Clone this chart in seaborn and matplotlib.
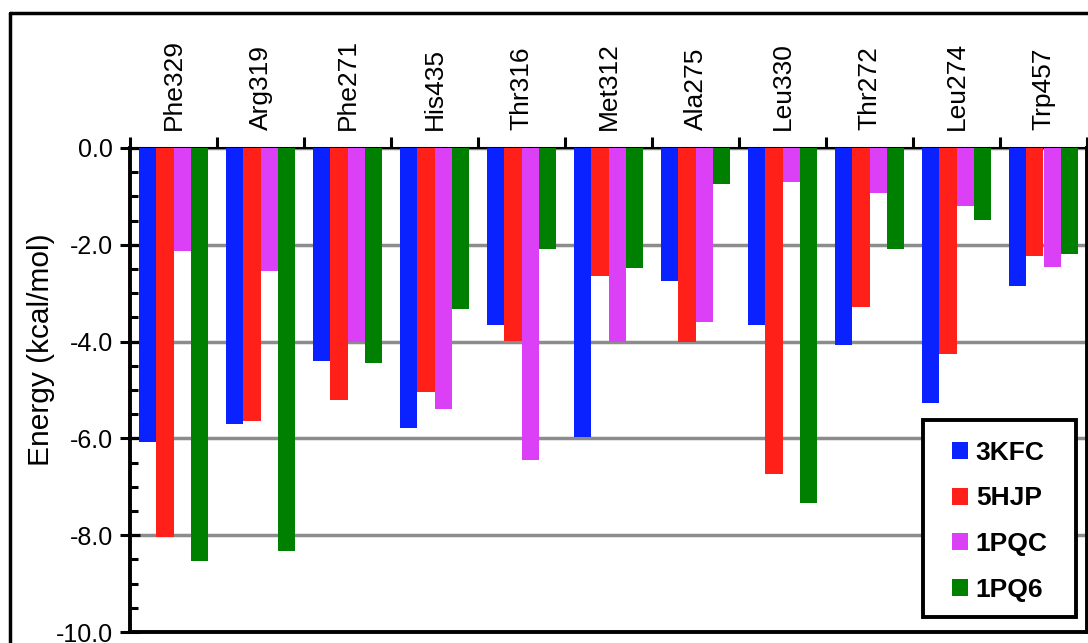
import matplotlib
matplotlib.use("Agg")
import matplotlib.pyplot as plt
from matplotlib.ticker import FixedLocator, MultipleLocator, FormatStrFormatter
from matplotlib.lines import Line2D
from matplotlib.patches import Rectangle
import numpy as np
import pandas as pd
import seaborn as sns

# Per-residue interaction energies (kcal/mol) for each structure
residues = ["Phe329", "Arg319", "Phe271", "His435", "Thr316", "Met312",
            "Ala275", "Leu330", "Thr272", "Leu274", "Trp457"]
structures = ["3KFC", "5HJP", "1PQC", "1PQ6"]
e_3kfc = [-6.07, -5.70, -4.41, -5.79, -3.65, -5.98, -2.74, -3.65, -4.08, -5.27, -2.86]
e_5hjp = [-8.03, -5.65, -5.21, -5.05, -3.99, -2.65, -4.00, -6.74, -3.29, -4.26, -2.24]
e_1pqc = [-2.12, -2.54, -4.00, -5.40, -6.45, -4.00, -3.60, -0.71, -0.92, -1.19, -2.46]
e_1pq6 = [-8.53, -8.33, -4.45, -3.32, -2.08, -2.47, -0.75, -7.34, -2.08, -1.48, -2.19]
bar_colors = ["#0a22ff", "#ff2119", "#dc40f6", "#008000"]
y_ticks = [0.0, -2.0, -4.0, -6.0, -8.0, -10.0]

df = pd.DataFrame({
    "Residue": residues * 4,
    "Structure": sum([[s] * len(residues) for s in structures], []),
    "Energy": e_3kfc + e_5hjp + e_1pqc + e_1pq6,
})

sns.set_theme(style="white")
plt.rcParams["font.family"] = ["Liberation Sans", "DejaVu Sans"]
plt.rcParams.update({"text.color": "black", "axes.labelcolor": "black",
                     "xtick.color": "black", "ytick.color": "black",
                     "axes.edgecolor": "black"})

W, H = 1088, 643
fig = plt.figure(figsize=(W / 100, H / 100), dpi=100)
ax = fig.add_axes([130 / W, 1 - 632 / H, (1087 - 130) / W, (632 - 148) / H])

sns.barplot(data=df, x="Residue", y="Energy", hue="Structure",
            hue_order=structures, order=residues, palette=bar_colors,
            saturation=1, width=0.8, linewidth=0, ax=ax, zorder=3,
            errorbar=None)

ax.set_xlim(-0.5, len(residues) - 0.5)
ax.set_ylim(-10, 0)

# Category labels along the zero line at the top
ax.xaxis.tick_top()
ax.xaxis.set_label_position("top")
ax.set_xlabel("")
ax.xaxis.set_major_locator(FixedLocator(np.arange(len(residues))))
ax.set_xticklabels(residues, rotation=90, fontsize=19)
ax.xaxis.set_minor_locator(FixedLocator(np.arange(len(residues) + 1) - 0.5))
ax.tick_params(axis="x", which="major", length=0, pad=13)
ax.tick_params(axis="x", which="minor", length=8, width=2.2, direction="out",
               top=True, bottom=False, color="black")

# Energy axis
ax.yaxis.set_major_locator(FixedLocator(y_ticks))
ax.yaxis.set_major_formatter(FormatStrFormatter("%.1f"))
ax.yaxis.set_minor_locator(MultipleLocator(0.5))
ax.tick_params(axis="y", which="major", length=15, width=2.2, direction="inout",
               left=True, labelsize=18, pad=5, color="black")
ax.tick_params(axis="y", which="minor", length=6, width=2.2, direction="in",
               left=True, color="black")
ax.set_ylabel("Energy (kcal/mol)", fontsize=21.5)
ax.yaxis.set_label_coords(-0.078, 0.583)

ax.yaxis.grid(True, which="major", color="#8c8c8c", linewidth=2.5, zorder=0)
ax.set_axisbelow(True)

for side in ["left", "bottom", "right"]:
    ax.spines[side].set_color("black")
    ax.spines[side].set_linewidth(2.8)
ax.spines["top"].set_color("black")
ax.spines["top"].set_linewidth(1.5)

# Legend: framed box in the lower right corner
ax.add_patch(Rectangle((0.8286, 0.031), 0.1599, 0.407, transform=ax.transAxes,
                       facecolor="white", edgecolor="black", linewidth=2.8,
                       zorder=4, clip_on=False))
handles, labels = ax.get_legend_handles_labels()
leg = ax.legend(handles, labels, loc="upper left", bbox_to_anchor=(0.859, 0.395),
                borderaxespad=0, borderpad=0, frameon=False,
                prop={"weight": "bold", "size": 19}, handlelength=0.62,
                handleheight=0.62, handletextpad=0.28, labelspacing=0.82,
                title=None)
leg.set_zorder(5)

# Outer frame around the figure
fig.add_artist(Line2D([10 / W, 10 / W], [-0.05, 1 - 13 / H], color="black",
                      linewidth=2.5, transform=fig.transFigure))
fig.add_artist(Line2D([10 / W, 1.05], [1 - 13 / H, 1 - 13 / H], color="black",
                      linewidth=2.5, transform=fig.transFigure))

fig.savefig("out.png", dpi=100, facecolor="white")
